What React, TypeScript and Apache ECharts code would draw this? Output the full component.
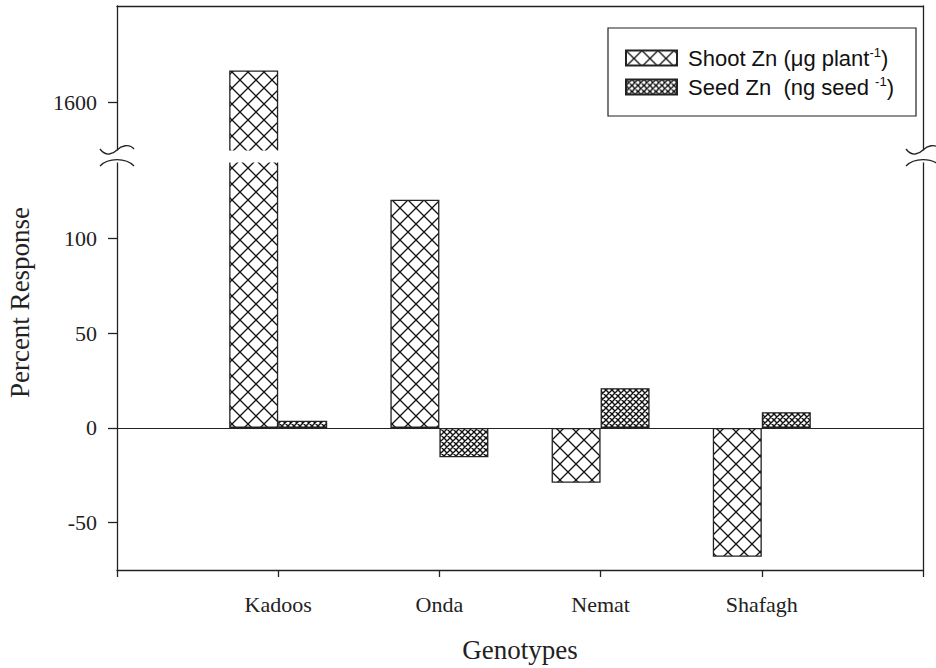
import React, { useEffect, useRef } from 'react';
import * as echarts from 'echarts';

const categories = ['Kadoos', 'Onda', 'Nemat', 'Shafagh'];
const shootZn = [1633, 120.5, -29, -68];
const seedZn = [3.8, -15.5, 21, 8.3];
const upperTicks = [1600];
const lowerTicks = [-50, 0, 50, 100];
const seriesNames = ['Shoot Zn (μg plant-1)', 'Seed Zn  (ng seed -1)'];
const legendMain = ['Shoot Zn (μg plant', 'Seed Zn  (ng seed '];
const legendSup = ['-1', '-1'];
const xTitle = 'Genotypes';
const yTitle = 'Percent Response';

const UPPER_MIN = 1545;
const UPPER_MAX = 1700;
const LOWER_MIN = -75;
const LOWER_MAX = 143;

const INK = '#222';
const SERIF = "'Liberation Serif', 'Times New Roman', serif";
const SANS = "'Liberation Sans', Arial, sans-serif";

function makeHatch(size: number, lw: number): HTMLCanvasElement {
  const c = document.createElement('canvas');
  c.width = size;
  c.height = size;
  const ctx = c.getContext('2d')!;
  ctx.fillStyle = '#fff';
  ctx.fillRect(0, 0, size, size);
  ctx.strokeStyle = '#111';
  ctx.lineWidth = lw;
  ctx.beginPath();
  for (const n of [-1, 0, 1]) {
    ctx.moveTo(0, n * size);
    ctx.lineTo(size, size + n * size);
  }
  for (const n of [0, 1, 2]) {
    ctx.moveTo(0, n * size);
    ctx.lineTo(size, n * size - size);
  }
  ctx.stroke();
  return c;
}

function wiggles(ax: number): any[] {
  const st = { stroke: INK, lineWidth: 1.3, fill: 'none' };
  return [
    {
      type: 'bezierCurve', z: 101, silent: true,
      shape: { x1: ax - 17, y1: 149, cpx1: ax - 11, cpy1: 157, cpx2: ax - 4, cpy2: 154, x2: ax, y2: 150 },
      style: st,
    },
    {
      type: 'bezierCurve', z: 101, silent: true,
      shape: { x1: ax, y1: 150, cpx1: ax + 4, cpy1: 146, cpx2: ax + 12, cpy2: 143, x2: ax + 17, y2: 149 },
      style: st,
    },
    {
      type: 'bezierCurve', z: 101, silent: true,
      shape: { x1: ax - 17, y1: 166, cpx1: ax - 9, cpy1: 157.5, cpx2: ax + 9, cpy2: 157.5, x2: ax + 17, y2: 166 },
      style: st,
    },
  ];
}

export default function App() {
  const ref = useRef<HTMLDivElement>(null);

  useEffect(() => {
    document.body.style.margin = '0';
    if (!ref.current) return;
    const chart = echarts.init(ref.current, null, { renderer: 'svg' });

    const bigHatch = { image: makeHatch(16, 1.3), repeat: 'repeat' as const };
    const smallHatch = { image: makeHatch(6, 1.4), repeat: 'repeat' as const };

    const slots = ['', ...categories, ''];
    const pad = (arr: any[]) => ['-', ...arr, '-'];
    const upperShoot = pad(shootZn.map((v) => (v >= UPPER_MIN ? v : '-')));
    const upperSeed = pad(seedZn.map((v) => (v >= UPPER_MIN ? v : '-')));

    const left = 117;
    const right = 13;

    const hiddenAxisBits = {
      axisTick: { show: false },
      axisLabel: { show: false },
      splitLine: { show: false },
    };
    const axisLine = { show: true, onZero: false, lineStyle: { color: INK, width: 1.3 } };
    const plain = (v: number) => String(v);

    const shootStyle = { color: bigHatch, borderColor: INK, borderWidth: 1.3 };
    const seedStyle = { color: smallHatch, borderColor: INK, borderWidth: 1.3 };

    const option: any = {
      animation: false,
      backgroundColor: '#fff',
      grid: [
        { left, right, top: 6, height: 149, outerBoundsMode: 'none' },
        { left, right, top: 157, bottom: 98, outerBoundsMode: 'none' },
      ],
      xAxis: [
        {
          type: 'category', gridIndex: 0, data: slots, boundaryGap: false,
          position: 'top', axisLine, ...hiddenAxisBits,
        },
        {
          type: 'category', gridIndex: 1, data: slots, boundaryGap: false,
          position: 'bottom', axisLine,
          axisTick: { show: true, length: 7, inside: false, lineStyle: { color: INK, width: 1.3 } },
          axisLabel: { show: true, margin: 23, fontFamily: SERIF, fontSize: 22, color: INK },
          splitLine: { show: false },
          name: xTitle, nameLocation: 'middle', nameGap: 66,
          nameTextStyle: { fontFamily: SERIF, fontSize: 27, color: INK },
        },
      ],
      yAxis: [
        {
          type: 'value', gridIndex: 0, min: UPPER_MIN, max: UPPER_MAX, position: 'left',
          axisLine,
          axisTick: { show: true, length: 9, customValues: upperTicks, lineStyle: { color: INK, width: 1.3 } },
          axisLabel: {
            show: true, margin: 20, customValues: upperTicks, formatter: plain,
            fontFamily: SERIF, fontSize: 22, color: INK,
          },
          splitLine: { show: false },
        },
        {
          type: 'value', gridIndex: 0, min: UPPER_MIN, max: UPPER_MAX, position: 'right',
          axisLine, ...hiddenAxisBits,
        },
        {
          type: 'value', gridIndex: 1, min: LOWER_MIN, max: LOWER_MAX, position: 'left',
          axisLine,
          axisTick: { show: true, length: 9, customValues: lowerTicks, lineStyle: { color: INK, width: 1.3 } },
          axisLabel: {
            show: true, margin: 20, customValues: lowerTicks, formatter: plain,
            fontFamily: SERIF, fontSize: 22, color: INK,
          },
          splitLine: { show: false },
          name: yTitle, nameLocation: 'middle', nameGap: 84,
          nameTextStyle: { fontFamily: SERIF, fontSize: 27, color: INK, padding: [0, 0, 0, 122] },
        },
        {
          type: 'value', gridIndex: 1, min: LOWER_MIN, max: LOWER_MAX, position: 'right',
          axisLine, ...hiddenAxisBits,
        },
      ],
      legend: {
        data: seriesNames,
        orient: 'vertical',
        left: 608,
        top: 28,
        padding: [18, 22, 18, 17],
        itemWidth: 51,
        itemHeight: 15,
        itemGap: 6,
        icon: 'rect',
        selectedMode: false,
        borderColor: INK,
        borderWidth: 1.2,
        backgroundColor: '#fff',
        formatter: (name: string) => {
          const i = seriesNames.indexOf(name);
          return `{f|${legendMain[i]}}{s|${legendSup[i]}}{t|)}`;
        },
        textStyle: {
          fontFamily: SANS, fontSize: 22, color: '#111',
          rich: {
            f: { fontFamily: SANS, fontSize: 22, color: '#111', lineHeight: 24, padding: [0, 0, 0, 6] },
            t: { fontFamily: SANS, fontSize: 22, color: '#111', lineHeight: 24 },
            s: { fontFamily: SANS, fontSize: 13, color: '#111', lineHeight: 13, verticalAlign: 'top' },
          },
        },
      },
      series: [
        {
          name: seriesNames[0], type: 'bar', xAxisIndex: 0, yAxisIndex: 0,
          data: upperShoot, barWidth: 49, barGap: '0%', itemStyle: shootStyle, silent: true,
        },
        {
          name: seriesNames[1], type: 'bar', xAxisIndex: 0, yAxisIndex: 0,
          data: upperSeed, barWidth: 49, barGap: '0%', itemStyle: seedStyle, silent: true,
        },
        {
          name: seriesNames[0], type: 'bar', xAxisIndex: 1, yAxisIndex: 2,
          data: pad(shootZn), barWidth: 49, barGap: '0%', itemStyle: shootStyle, silent: true,
          markLine: {
            silent: true, symbol: ['none', 'none'], label: { show: false },
            lineStyle: { color: INK, width: 1.2, type: 'solid' },
            data: [{ yAxis: 0 }],
          },
        },
        {
          name: seriesNames[1], type: 'bar', xAxisIndex: 1, yAxisIndex: 2,
          data: pad(seedZn), barWidth: 49, barGap: '0%', itemStyle: seedStyle, silent: true,
        },
      ],
      graphic: [
        {
          type: 'rect', z: 100, silent: true,
          shape: { x: 90, y: 150.5, width: 846, height: 12 },
          style: { fill: '#fff' },
        },
        ...wiggles(117),
        ...wiggles(923),
      ],
    };

    chart.setOption(option);
    return () => chart.dispose();
  }, []);

  return <div ref={ref} style={{ width: 936, height: 668 }} />;
}
